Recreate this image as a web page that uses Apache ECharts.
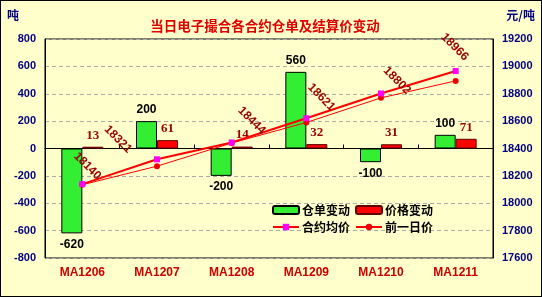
<!DOCTYPE html>
<html>
<head>
<meta charset="utf-8">
<script src="https://cdn.jsdelivr.net/npm/echarts@6/dist/echarts.min.js"></script>
<style>
html,body{margin:0;padding:0;background:#FFFFCC;}
#c{width:542px;height:297px;box-sizing:border-box;border:1px solid #000;background:#FFFFCC;}
</style>
</head>
<body>
<div id="c"></div>
<script>
// ---- data ----
var categories = ['MA1206','MA1207','MA1208','MA1209','MA1210','MA1211'];
var warrantChange = [-620, 200, -200, 560, -100, 100];
var priceChange = [13, 61, 14, 32, 31, 71];
var contractAvg = [18140, 18321, 18444, 18621, 18802, 18966];
var prevDay = [18135, 18271, 18440, 18590, 18770, 18894];
var leftTicks = {min: -800, max: 800, interval: 200};
var rightTicks = {min: 17600, max: 19200, interval: 200};

// label placement style for the average-price labels (screen shift of label centre)
var avgLabelShift = [[5,-18],[-39,-20],[20,-22],[15,-21],[16,-13],[-1,-24]];
var LABEL_ROT = -45;

function toLocalOffset(d){
  var t = -LABEL_ROT * Math.PI / 180;
  var c = Math.cos(t), s = Math.sin(t);
  return [d[0]*c + d[1]*s, -d[0]*s + d[1]*c];
}

var chart = echarts.init(document.getElementById('c'));
var avgData = contractAvg.map(function(v,i){
  return {value: v, label: {offset: toLocalOffset(avgLabelShift[i])}};
});
var warrantData = warrantChange.map(function(v){
  return {value: v, label: {position: v < 0 ? 'bottom' : 'top'}};
});
var plain = function(v){ return String(v); };
var option = {
  backgroundColor: '#FFFFCC',
  animation: false,
  title: {
    text: '当日电子撮合各合约仓单及结算价变动',
    left: 259, top: 13, textAlign: 'center',
    textStyle: {color: '#E00000', fontSize: 13.5, fontWeight: 'bold', fontFamily: 'Noto Sans CJK SC'}
  },
  graphic: [
    {type: 'text', left: 6, top: 8, style: {text: '吨', fill: '#000080', font: 'bold 12px "Noto Sans CJK SC"'}},
    {type: 'text', right: 6, top: 8, style: {text: '元/吨', fill: '#000080', font: 'bold 12px "Noto Sans CJK SC"'}}
  ],
  legend: {
    left: 266, top: 198, width: 175,
    itemWidth: 26, itemHeight: 8, itemGap: 5,
    textStyle: {color: '#000', fontSize: 12, fontWeight: 'bold', fontFamily: 'Noto Sans CJK SC', padding: [0,0,0,-2]},
    data: ['仓单变动','价格变动','合约均价','前一日价']
  },
  grid: {left: 44, right: 48, top: 38, bottom: 38, show: true, borderColor: '#000', borderWidth: 1, backgroundColor: '#FFFFCC'},
  xAxis: [
    {type: 'category', data: categories, position: 'bottom',
     axisLine: {show: false, onZero: false}, axisTick: {show: false},
     axisLabel: {color: '#CC0000', fontWeight: 'bold', fontSize: 12, fontFamily: 'Arial', margin: 9}},
    {type: 'category', data: categories, position: 'bottom',
     axisLine: {show: true, onZero: true, lineStyle: {color: '#000', width: 1}},
     axisTick: {show: true, inside: true, length: 4, lineStyle: {color: '#000'}},
     axisLabel: {show: false}}
  ],
  yAxis: [
    {type: 'value', min: leftTicks.min, max: leftTicks.max, interval: leftTicks.interval,
     axisLine: {show: true, lineStyle: {color: '#000'}}, axisTick: {show: false},
     splitLine: {show: true, lineStyle: {color: '#AAAAAA', type: [4,3]}},
     axisLabel: {color: '#000080', fontWeight: 'bold', fontSize: 11, fontFamily: 'Arial', margin: 9, formatter: plain}},
    {type: 'value', min: rightTicks.min, max: rightTicks.max, interval: rightTicks.interval,
     axisLine: {show: true, lineStyle: {color: '#000'}}, axisTick: {show: false},
     splitLine: {show: false},
     axisLabel: {color: '#000080', fontWeight: 'bold', fontSize: 11, fontFamily: 'Arial', margin: 9, formatter: plain}}
  ],
  series: [
    {name: '仓单变动', type: 'bar', data: warrantData, barWidth: 21, barGap: '0%',
     itemStyle: {color: '#33EE33', borderColor: '#000', borderWidth: 1},
     label: {show: true, color: '#000', fontSize: 12, fontFamily: 'Arial', fontWeight: 'bold'}},
    {name: '价格变动', type: 'bar', data: priceChange, barWidth: 21,
     itemStyle: {color: '#FF0000', borderColor: '#600000', borderWidth: 1},
     label: {show: true, position: 'top', color: '#990000', fontSize: 13, fontFamily: 'Liberation Serif', fontWeight: 'bold'}},
    {name: '合约均价', type: 'line', yAxisIndex: 1, data: avgData, z: 5,
     lineStyle: {color: '#FF0000', width: 2}, itemStyle: {color: '#FF00FF'},
     symbol: 'rect', symbolSize: 6,
     label: {show: true, position: 'inside', rotate: LABEL_ROT, color: '#990000', fontSize: 12, fontWeight: 'bold', fontFamily: 'Arial'}},
    {name: '前一日价', type: 'line', yAxisIndex: 1, data: prevDay, z: 4,
     lineStyle: {color: '#FF0000', width: 1}, itemStyle: {color: '#EE0000'},
     symbol: 'circle', symbolSize: 6}
  ]
};
chart.setOption(option);
</script>
</body>
</html>
